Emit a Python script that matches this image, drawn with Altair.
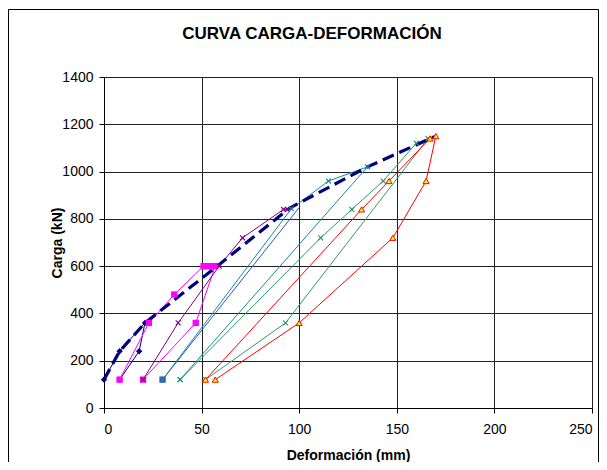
import altair as alt
import pandas as pd

# ---- data (Deformación mm, Carga kN) ----
navy_x = [0, 8, 21, 18, 8]
navy_y = [120, 240, 360, 240, 120]

magenta_x = [8, 23, 36, 51, 53, 55, 57, 47, 20]
magenta_y = [120, 360, 480, 600, 600, 600, 600, 360, 120]

purple_x = [20, 38, 59, 71, 92, 94]
purple_y = [120, 360, 600, 720, 840, 840]

blue_x = [30, 100]
blue_y = [120, 848]

teal_x = [30, 96, 115, 135, 39]
teal_y = [120, 843, 960, 1020, 120]

green_x = [39, 111, 127, 143, 160, 166, 93, 52]
green_y = [120, 720, 840, 960, 1120, 1140, 360, 120]

red_x = [52, 132, 146, 167, 170, 165, 148, 100, 57]
red_y = [120, 840, 960, 1140, 1150, 960, 720, 360, 120]

env_x = [0, 8, 21, 58, 95, 135, 170]
env_y = [120, 240, 360, 600, 845, 1020, 1150]

x_ticks = [0, 50, 100, 150, 200, 250]
y_ticks = [0, 200, 400, 600, 800, 1000, 1200, 1400]

FONT = "Liberation Sans"

xscale = alt.Scale(domain=[0, 250], nice=False, zero=False)
yscale = alt.Scale(domain=[0, 1400], nice=False, zero=False)
xaxis = alt.Axis(values=x_ticks, format="d", title="Deformación (mm)", grid=True,
                 labelPadding=9, titleY=40)
yaxis = alt.Axis(values=y_ticks, format="d", title="Carga (kN)", grid=True,
                 labelPadding=6, titleX=-40)

XSHAPE = "M-1,-1L1,1M-1,1L1,-1"


def series(xs, ys, color, shape, kind, marker_n=None):
    df = pd.DataFrame({"x": xs, "y": ys, "i": list(range(len(xs)))})
    base = alt.Chart(df).encode(
        x=alt.X("x:Q", scale=xscale, axis=xaxis),
        y=alt.Y("y:Q", scale=yscale, axis=yaxis),
        order=alt.Order("i:Q"),
    )
    line = base.mark_line(color=color, strokeWidth=1)
    pbase = base
    if marker_n is not None:
        pbase = base.transform_filter(alt.datum.i < marker_n)
    if kind == "filled":
        pts = pbase.mark_point(shape=shape, filled=True, color=color, size=40, opacity=1)
    elif kind == "tri":
        pts = pbase.mark_point(shape=shape, filled=True, fill="#FFFF00", stroke="#FF0000",
                               strokeWidth=1, size=36, opacity=1)
    else:
        pts = pbase.mark_point(shape=shape, filled=False, color=color, strokeWidth=1.2,
                               size=24, opacity=1)
    return line, pts


specs = [
    (navy_x, navy_y, "#000080", "diamond", "filled", None),
    (magenta_x, magenta_y, "#FF00FF", "square", "filled", None),
    (purple_x, purple_y, "#800080", XSHAPE, "x", None),
    (blue_x, blue_y, "#3355BB", "square", "filled", 1),
    (teal_x, teal_y, "#16899A", XSHAPE, "x", None),
    (green_x, green_y, "#339966", XSHAPE, "x", None),
    (red_x, red_y, "#FF0000", "triangle-up", "tri", None),
]

lines, points = [], []
for s in specs:
    l, p = series(*s)
    lines.append(l)
    points.append(p)

env_df = pd.DataFrame({"x": env_x, "y": env_y, "i": list(range(len(env_x)))})
envelope = alt.Chart(env_df).mark_line(
    color="#000080", strokeWidth=3.2, strokeDash=[12, 6]
).encode(
    x=alt.X("x:Q", scale=xscale, axis=xaxis),
    y=alt.Y("y:Q", scale=yscale, axis=yaxis),
    order=alt.Order("i:Q"),
)

frame = alt.Chart(pd.DataFrame({"a": [0]})).mark_rect(
    filled=False, stroke="#000000", strokeWidth=1
).encode(
    x=alt.value(-95.5), x2=alt.value(494.5), y=alt.value(-67.5), y2=alt.value(500)
)

chart = alt.layer(frame, *lines, envelope, *points).properties(
    width=488,
    height=331,
    autosize=alt.AutoSizeParams(type="none"),
    padding={"left": 96, "top": 69, "right": 7, "bottom": 54},
    title=alt.Title("CURVA CARGA-DEFORMACIÓN", anchor="middle", frame="group",
                    dx=-36, offset=-34, font=FONT, fontSize=17, fontWeight="bold",
                    color="#000000"),
).configure(
    background="#FFFFFF",
    font=FONT,
).configure_view(
    stroke=None
).configure_axis(
    labelFont=FONT, labelFontSize=14, labelColor="#000000",
    titleFont=FONT, titleFontSize=14, titleFontWeight="bold", titleColor="#000000",
    domainColor="#000000", domainWidth=1,
    tickColor="#000000", tickSize=5, tickWidth=1,
    gridColor="#222222", gridWidth=1, gridOpacity=1,
)

chart.save("out.html", embed_options={"renderer": "svg", "actions": False})
